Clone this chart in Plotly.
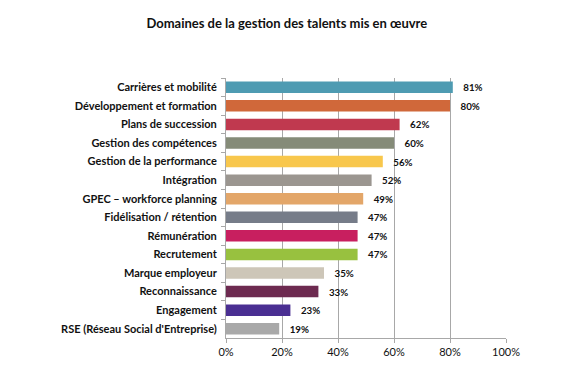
import plotly.graph_objects as go

categories = [
    "Carrières et mobilité",
    "Développement et formation",
    "Plans de succession",
    "Gestion des compétences",
    "Gestion de la performance",
    "Intégration",
    "GPEC – workforce planning",
    "Fidélisation / rétention",
    "Rémunération",
    "Recrutement",
    "Marque employeur",
    "Reconnaissance",
    "Engagement",
    "RSE (Réseau Social d'Entreprise)",
]
values = [81, 80, 62, 60, 56, 52, 49, 47, 47, 47, 35, 33, 23, 19]
colors = [
    "#4E9BB2", "#D0683A", "#C0394F", "#858B78", "#F8C74C", "#9B9690",
    "#E3A669", "#767C89", "#C81F5F", "#98C13F", "#CDC6B8", "#6D2A50",
    "#4A2F92", "#A9A9A9",
]
x_ticks = [0, 20, 40, 60, 80, 100]
x_tick_labels = ["0%", "20%", "40%", "60%", "80%", "100%"]

FONT = "Lato"

fig = go.Figure()
fig.add_trace(go.Bar(
    x=values,
    y=categories,
    orientation="h",
    marker=dict(color=colors, line=dict(width=0)),
    text=[f"\u00a0\u00a0\u00a0<b>{v}%</b>" for v in values],
    textposition="outside",
    textfont=dict(family=FONT, size=11, color="#111111"),
    cliponaxis=False,
    hoverinfo="skip",
))

fig.update_layout(
    width=561,
    height=379,
    margin=dict(l=218, r=63, t=70, b=49),
    paper_bgcolor="white",
    plot_bgcolor="white",
    bargap=0.38,
    showlegend=False,
    title=dict(
        text="<b>Domaines de la gestion des talents mis en œuvre</b>",
        x=0.497, xanchor="center", y=0.958, yanchor="middle",
        font=dict(family=FONT, size=13, color="#111111"),
    ),
    xaxis=dict(
        range=[0, 100],
        tickvals=x_ticks,
        ticktext=x_tick_labels,
        showgrid=True,
        gridcolor="#A8A8A8",
        gridwidth=1,
        showline=True,
        linecolor="#A8A8A8",
        ticks="outside",
        ticklen=4,
        tickcolor="#A8A8A8",
        tickfont=dict(family=FONT, size=11, color="#111111"),
        zeroline=False,
        fixedrange=True,
    ),
    yaxis=dict(
        autorange="reversed",
        showline=True,
        linecolor="#A8A8A8",
        ticks="outside",
        ticklen=4,
        tickcolor="#A8A8A8",
        tickson="boundaries",
        ticklabelstandoff=6,
        tickfont=dict(family=FONT, size=11, color="#111111"),
        fixedrange=True,
    ),
)
fig.update_yaxes(tickprefix="<b>", ticksuffix="</b>")

fig.write_html("out.html")
